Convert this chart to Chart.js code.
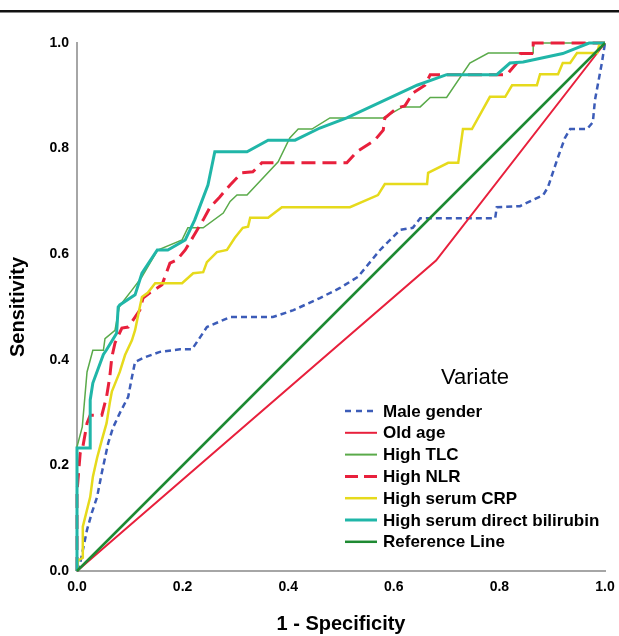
<!DOCTYPE html>
<html>
<head>
<meta charset="utf-8">
<script src="https://cdn.jsdelivr.net/npm/chart.js@4.4.1/dist/chart.umd.min.js"></script>
<style>
    body { margin: 0; background: #fff; }
    #wrap { position: relative; width: 619px; height: 636px; }
</style>
</head>
<body>
<div id="wrap"><canvas id="myChart"></canvas></div>
<script>
// ROC curves, x = 1 - specificity, y = sensitivity
const tickValues = [0, 0.2, 0.4, 0.6, 0.8, 1.0];

const maleX = [0, .006, .019, .028, .038, .047, .059, .068, .081, .097, .104, .110, .129, .157, .195, .218, .246, .29, .371, .41, .46, .498, .532, .574, .612, .636, .65, .792, .795, .839, .883, .892, .909, .924, .934, .966, .977, .981, .994, 1];
const maleY = [0, .015, .078, .11, .14, .186, .242, .271, .299, .33, .367, .396, .405, .415, .42, .42, .462, .481, .481, .494, .517, .536, .557, .608, .646, .65, .668, .668, .689, .691, .712, .727, .778, .82, .837, .837, .85, .892, .962, 1];

const oldAgeX = [0, .68, 1];
const oldAgeY = [0, .588, 1];

const tlcX = [0, 0, .01, .019, .03, .05, .053, .072, .08, .087, .104, .123, .153, .199, .21, .239, .277, .29, .303, .322, .381, .403, .419, .445, .479, .58, .617, .65, .669, .70, .744, .779, .864, .864, 1];
const tlcY = [0, .235, .273, .377, .418, .418, .44, .456, .5, .51, .532, .557, .608, .627, .65, .65, .678, .70, .712, .712, .775, .82, .837, .837, .858, .858, .879, .879, .897, .897, .962, .981, .981, 1, 1];

const nlrX = [0, 0, .006, .011, .019, .025, .047, .056, .062, .066, .072, .085, .097, .119, .125, .138, .161, .176, .189, .205, .22, .239, .252, .27, .29, .312, .333, .35, .511, .53, .564, .58, .583, .606, .621, .636, .659, .669, .814, .833, .84, .864, .864, 1];
const nlrY = [0, .15, .223, .235, .28, .295, .295, .33, .367, .405, .432, .46, .462, .494, .517, .527, .542, .583, .589, .608, .633, .665, .689, .708, .731, .754, .756, .773, .773, .794, .816, .835, .858, .877, .881, .905, .92, .94, .94, .962, .98, .98, 1, 1];

const crpX = [0, .002, .011, .011, .025, .03, .038, .047, .056, .062, .066, .081, .091, .104, .11, .119, .123, .134, .148, .199, .22, .239, .246, .265, .284, .299, .314, .324, .328, .362, .388, .517, .57, .583, .663, .665, .703, .722, .731, .748, .782, .811, .824, .871, .877, .911, .92, .934, .947, .985, .99, 1];
const crpY = [0, .02, .025, .084, .14, .178, .214, .248, .28, .318, .34, .377, .409, .437, .456, .5, .519, .527, .545, .545, .564, .566, .585, .604, .608, .631, .65, .652, .669, .669, .689, .689, .712, .733, .733, .754, .773, .773, .837, .837, .898, .898, .92, .92, .941, .941, .962, .962, .981, .981, 1, 1];

const biliX = [0, 0, .025, .025, .03, .05, .056, .075, .078, .081, .11, .123, .152, .172, .205, .223, .248, .261, .322, .362, .413, .46, .511, .644, .70, .795, .82, .845, .92, .97, 1];
const biliY = [0, .233, .233, .324, .356, .41, .419, .45, .5, .504, .523, .564, .608, .608, .627, .665, .731, .794, .794, .816, .816, .839, .858, .92, .94, .94, .962, .964, .98, 1, 1];

const refX = [0, 1];
const refY = [0, 1];

const seriesLabels = ['Male gender', 'Old age', 'High TLC', 'High NLR', 'High serum CRP', 'High serum direct bilirubin', 'Reference Line'];

const FONT = '"Liberation Sans", Arial, sans-serif';

function toPoints(xs, ys) {
    return xs.map(function (x, i) { return { x: x, y: ys[i] }; });
}

// legend drawn inside the plot, plus the black rule at the top
const overlayPlugin = {
    id: 'overlay',
    beforeDraw: function (chart) {
        const c = chart.ctx;
        c.save();
        c.fillStyle = '#111';
        c.fillRect(0, 10, chart.width, 2.5);
        c.restore();
    },
    afterDraw: function (chart) {
        const c = chart.ctx;
        c.save();
        c.fillStyle = '#000';
        c.font = '22px ' + FONT;
        c.textAlign = 'center';
        c.textBaseline = 'middle';
        c.fillText('Variate', 475, 378);

        c.font = 'bold 17px ' + FONT;
        c.textAlign = 'left';
        chart.data.datasets.forEach(function (ds, i) {
            const y = 411 + i * 21.8;
            c.strokeStyle = ds.borderColor;
            c.lineWidth = Math.max(ds.borderWidth, 2);
            c.setLineDash(ds.legendDash || []);
            c.beginPath();
            c.moveTo(345, y);
            c.lineTo(377, y);
            c.stroke();
            c.setLineDash([]);
            c.fillText(ds.label, 383, y + 1);
        });
        c.restore();
    }
};

const ctx = document.getElementById('myChart');

new Chart(ctx, {
    type: 'line',
    data: {
        datasets: [
            { label: seriesLabels[0], data: toPoints(maleX, maleY), borderColor: '#3c5cb8', borderWidth: 2.5, borderDash: [6, 4], legendDash: [6, 5], order: 7 },
            { label: seriesLabels[1], data: toPoints(oldAgeX, oldAgeY), borderColor: '#e8203c', borderWidth: 2, order: 6 },
            { label: seriesLabels[2], data: toPoints(tlcX, tlcY), borderColor: '#5aaa4a', borderWidth: 1.5, order: 5 },
            { label: seriesLabels[3], data: toPoints(nlrX, nlrY), borderColor: '#e8203c', borderWidth: 3, borderDash: [14, 7], legendDash: [13, 6], order: 4 },
            { label: seriesLabels[4], data: toPoints(crpX, crpY), borderColor: '#e6da1c', borderWidth: 2.5, order: 3 },
            { label: seriesLabels[5], data: toPoints(biliX, biliY), borderColor: '#20b6a8', borderWidth: 3, order: 2 },
            { label: seriesLabels[6], data: toPoints(refX, refY), borderColor: '#1e8a32', borderWidth: 2.5, order: 1 }
        ]
    },
    options: {
        responsive: true,
        maintainAspectRatio: false,
        animation: false,
        layout: { padding: { top: 43, right: 14, left: 0, bottom: 0 } },
        elements: {
            point: { radius: 0, hoverRadius: 0 },
            line: { tension: 0, fill: false, borderCapStyle: 'butt', borderJoinStyle: 'miter' }
        },
        datasets: { line: { clip: false } },
        plugins: {
            legend: { display: false },
            tooltip: { enabled: false }
        },
        scales: {
            x: {
                type: 'linear',
                min: 0, max: 1,
                afterFit: function (scale) {
                    scale.height = 65;
                    scale.paddingLeft = 0;
                    scale.paddingRight = 0;
                },
                afterBuildTicks: function (scale) { scale.ticks = tickValues.map(function (v) { return { value: v }; }); },
                grid: { display: false, drawTicks: false },
                border: { display: true, color: '#a6a6a6', width: 2 },
                ticks: {
                    padding: 8,
                    color: '#000',
                    maxRotation: 0,
                    font: { family: FONT, size: 14, weight: 'bold' },
                    callback: function (v) { return v.toFixed(1); }
                },
                title: {
                    display: true,
                    text: '1 - Specificity',
                    color: '#000',
                    padding: { top: 0, bottom: 0 },
                    font: { family: FONT, size: 20, weight: 'bold' }
                }
            },
            y: {
                type: 'linear',
                min: 0, max: 1,
                afterFit: function (scale) { scale.width = 77; },
                afterBuildTicks: function (scale) { scale.ticks = tickValues.map(function (v) { return { value: v }; }); },
                grid: { display: false, drawTicks: false },
                border: { display: true, color: '#a6a6a6', width: 2 },
                ticks: {
                    padding: 8,
                    color: '#000',
                    font: { family: FONT, size: 14, weight: 'bold' },
                    callback: function (v) { return v.toFixed(1); }
                },
                title: {
                    display: true,
                    text: 'Sensitivity',
                    color: '#000',
                    padding: { top: 6, bottom: 0 },
                    font: { family: FONT, size: 20, weight: 'bold' }
                }
            }
        }
    },
    plugins: [overlayPlugin]
});
</script>
</body>
</html>
